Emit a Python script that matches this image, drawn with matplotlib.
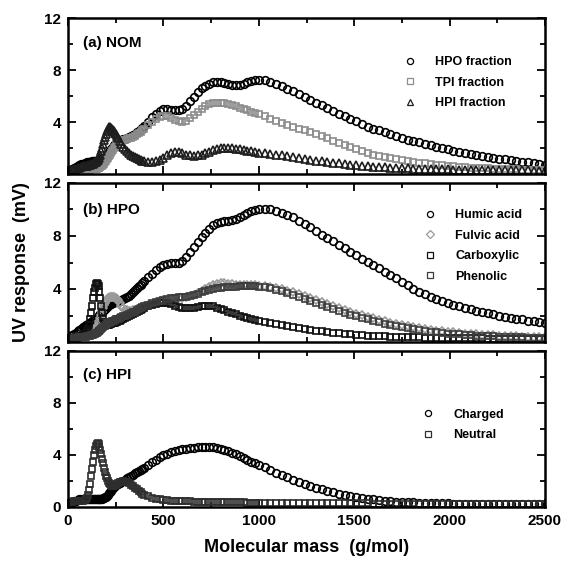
import matplotlib
matplotlib.use("Agg")
import matplotlib.pyplot as plt
from matplotlib.ticker import MultipleLocator, FixedLocator

plt.rcParams['font.family'] = ['Liberation Sans', 'DejaVu Sans']
plt.rcParams['font.weight'] = 'bold'

# ---------------- data ----------------
mass = [0, 10, 20, 30, 40, 50, 60, 70, 80, 90,
        95, 100, 105, 110, 115, 120, 125, 130, 135, 140, 145, 150, 155, 160, 165, 170, 175, 180, 185, 190,
        195, 200, 205, 210, 215, 220, 225, 230, 235, 240, 245, 250, 255, 260,
        270, 280, 290, 300, 310, 320, 330, 340, 350, 360, 370, 380, 390, 400,
        420, 440, 460, 480, 500, 520, 540, 560, 580, 600, 620, 640, 660, 680, 700, 720, 740, 760, 780, 800,
        820, 840, 860, 880, 900, 920, 940, 960, 980, 1000,
        1030, 1060, 1090, 1120, 1150, 1180, 1210, 1240, 1270, 1300, 1330, 1360, 1390, 1420, 1450, 1480, 1510,
        1540, 1570, 1600, 1630, 1660, 1690, 1720, 1750, 1780, 1810, 1840, 1870, 1900, 1930, 1960, 1990, 2020,
        2050, 2080, 2110, 2140, 2170, 2200, 2230, 2260, 2290, 2320, 2350, 2380, 2410, 2440, 2470, 2500]

# (a) NOM
hpo_fraction = [0.2, 0.3, 0.35, 0.45, 0.55, 0.6, 0.7, 0.75, 0.8, 0.85,
                0.87, 0.9, 0.92, 0.95, 0.95, 0.95, 0.97, 1.0, 1.0, 1.0, 1.0, 1.0, 1.02, 1.05, 1.07, 1.1, 1.12, 1.15, 1.2, 1.25,
                1.3, 1.35, 1.47, 1.6, 1.7, 1.8, 1.9, 2.0, 2.1, 2.2, 2.3, 2.4, 2.45, 2.5,
                2.6, 2.65, 2.7, 2.7, 2.75, 2.85, 2.9, 3.0, 3.1, 3.2, 3.3, 3.45, 3.55, 3.7,
                4.0, 4.35, 4.65, 4.85, 5.0, 5.0, 4.95, 4.9, 4.9, 5.0, 5.25, 5.6, 5.95, 6.3, 6.6, 6.8, 6.95, 7.05, 7.05, 7.05,
                7.0, 6.9, 6.85, 6.85, 6.85, 6.95, 7.05, 7.15, 7.2, 7.25,
                7.2, 7.1, 6.95, 6.75, 6.55, 6.35, 6.15, 5.95, 5.7, 5.5, 5.3, 5.1, 4.85, 4.65, 4.45, 4.25, 4.05, 3.85, 3.65, 3.5,
                3.35, 3.2, 3.05, 2.9, 2.8, 2.65, 2.55, 2.45, 2.3, 2.2, 2.1, 2.0, 1.9, 1.8, 1.7, 1.6, 1.52, 1.45, 1.38, 1.3,
                1.25, 1.18, 1.12, 1.06, 1.0, 0.95, 0.9, 0.83, 0.77, 0.7]
tpi_fraction = [0.1, 0.1, 0.12, 0.15, 0.18, 0.2, 0.22, 0.25, 0.27, 0.3,
                0.3, 0.3, 0.31, 0.32, 0.33, 0.35, 0.36, 0.37, 0.38, 0.4, 0.41, 0.42, 0.44, 0.47, 0.5, 0.55, 0.6, 0.65, 0.72, 0.8,
                0.9, 1.0, 1.12, 1.25, 1.37, 1.5, 1.62, 1.75, 1.88, 2.0, 2.1, 2.2, 2.3, 2.4,
                2.5, 2.55, 2.6, 2.62, 2.68, 2.75, 2.8, 2.87, 2.95, 3.05, 3.15, 3.25, 3.35, 3.45,
                3.75, 4.0, 4.25, 4.4, 4.5, 4.45, 4.3, 4.15, 4.05, 4.0, 4.1, 4.3, 4.55, 4.8, 5.0, 5.2, 5.35, 5.45, 5.5, 5.5,
                5.45, 5.4, 5.3, 5.2, 5.1, 5.0, 4.9, 4.8, 4.7, 4.6,
                4.45, 4.25, 4.1, 3.95, 3.8, 3.65, 3.5, 3.35, 3.25, 3.1, 2.9, 2.75, 2.55, 2.4, 2.2, 2.05, 1.9, 1.78, 1.65, 1.5,
                1.42, 1.33, 1.23, 1.15, 1.08, 1.0, 0.95, 0.88, 0.82, 0.76, 0.72, 0.67, 0.62, 0.59, 0.56, 0.53, 0.5, 0.48, 0.46, 0.44,
                0.42, 0.4, 0.38, 0.37, 0.35, 0.34, 0.33, 0.32, 0.31, 0.3]
hpi_fraction = [0.2, 0.25, 0.3, 0.35, 0.4, 0.45, 0.5, 0.55, 0.6, 0.62,
                0.63, 0.65, 0.67, 0.7, 0.72, 0.75, 0.77, 0.8, 0.85, 0.9, 0.95, 1.0, 1.1, 1.2, 1.35, 1.5, 1.75, 2.0, 2.3, 2.6,
                2.85, 3.1, 3.3, 3.5, 3.58, 3.6, 3.57, 3.5, 3.4, 3.3, 3.18, 3.05, 2.93, 2.8,
                2.55, 2.3, 2.1, 1.9, 1.75, 1.6, 1.5, 1.4, 1.3, 1.22, 1.15, 1.08, 1.02, 0.97,
                0.92, 0.92, 1.0, 1.1, 1.25, 1.45, 1.6, 1.7, 1.68, 1.6, 1.5, 1.45, 1.42, 1.45, 1.5, 1.6, 1.72, 1.85, 1.93, 1.98,
                2.0, 2.0, 1.97, 1.93, 1.9, 1.85, 1.8, 1.75, 1.7, 1.65,
                1.6, 1.55, 1.5, 1.45, 1.38, 1.3, 1.22, 1.15, 1.08, 1.02, 0.97, 0.92, 0.87, 0.82, 0.77, 0.72, 0.68, 0.64, 0.6, 0.57,
                0.54, 0.51, 0.49, 0.47, 0.45, 0.43, 0.42, 0.4, 0.39, 0.38, 0.37, 0.36, 0.35, 0.34, 0.33, 0.33, 0.32, 0.31, 0.31, 0.3,
                0.3, 0.29, 0.29, 0.28, 0.28, 0.27, 0.27, 0.26, 0.26, 0.25]

# (b) HPO
humic_acid = [0.3, 0.4, 0.5, 0.6, 0.7, 0.8, 0.9, 1.0, 1.1, 1.2,
              1.25, 1.3, 1.35, 1.4, 1.45, 1.5, 1.55, 1.6, 1.65, 1.7, 1.75, 1.8, 1.87, 1.95, 2.02, 2.1, 2.17, 2.25, 2.32, 2.4,
              2.47, 2.55, 2.62, 2.7, 2.77, 2.85, 2.9, 2.95, 2.97, 3.0, 3.02, 3.05, 3.07, 3.1,
              3.12, 3.17, 3.23, 3.3, 3.4, 3.5, 3.62, 3.75, 3.9, 4.05, 4.2, 4.3, 4.45, 4.6,
              4.9, 5.15, 5.45, 5.65, 5.8, 5.9, 5.95, 5.95, 6.0, 6.1, 6.4, 6.8, 7.2, 7.55, 7.9, 8.25, 8.55, 8.8, 8.95, 9.05,
              9.1, 9.12, 9.18, 9.28, 9.4, 9.55, 9.7, 9.85, 9.97, 10.05,
              10.05, 10.0, 9.9, 9.75, 9.6, 9.4, 9.15, 8.9, 8.65, 8.35, 8.1, 7.85, 7.6, 7.35, 7.1, 6.8, 6.55, 6.3, 6.05, 5.8,
              5.55, 5.3, 5.05, 4.8, 4.55, 4.3, 4.0, 3.8, 3.6, 3.42, 3.27, 3.12, 2.97, 2.83, 2.7, 2.58, 2.47, 2.37, 2.27, 2.17,
              2.08, 2.0, 1.92, 1.84, 1.77, 1.7, 1.62, 1.55, 1.48, 1.42]
fulvic_acid = [0.2, 0.25, 0.3, 0.33, 0.36, 0.4, 0.42, 0.45, 0.48, 0.5,
               0.52, 0.55, 0.57, 0.6, 0.65, 0.7, 0.75, 0.8, 0.87, 0.95, 1.02, 1.1, 1.25, 1.4, 1.6, 1.8, 2.05, 2.3, 2.55, 2.8,
               2.95, 3.1, 3.2, 3.3, 3.35, 3.4, 3.41, 3.42, 3.4, 3.38, 3.34, 3.3, 3.22, 3.15,
               2.95, 2.75, 2.55, 2.45, 2.38, 2.35, 2.35, 2.38, 2.42, 2.47, 2.52, 2.58, 2.64, 2.7,
               2.8, 2.9, 3.0, 3.08, 3.15, 3.2, 3.25, 3.28, 3.3, 3.33, 3.38, 3.45, 3.55, 3.7, 3.85, 4.0, 4.15, 4.3, 4.4, 4.45,
               4.42, 4.38, 4.35, 4.32, 4.3, 4.3, 4.3, 4.28, 4.27, 4.25,
               4.2, 4.15, 4.08, 4.0, 3.88, 3.75, 3.6, 3.45, 3.3, 3.15, 3.0, 2.85, 2.7, 2.55, 2.4, 2.27, 2.15, 2.03, 1.9, 1.78,
               1.67, 1.56, 1.46, 1.37, 1.28, 1.2, 1.12, 1.05, 0.98, 0.92, 0.86, 0.81, 0.76, 0.72, 0.68, 0.64, 0.61, 0.58, 0.55, 0.52,
               0.5, 0.48, 0.46, 0.44, 0.42, 0.41, 0.4, 0.39, 0.38, 0.37]
carboxylic = [0.2, 0.25, 0.3, 0.33, 0.36, 0.4, 0.42, 0.45, 0.5, 0.6,
              0.68, 0.8, 1.0, 1.3, 1.7, 2.2, 2.75, 3.3, 3.75, 4.1, 4.35, 4.45, 4.4, 4.2, 3.8, 3.3, 2.75, 2.2, 1.8, 1.5,
              1.37, 1.3, 1.3, 1.3, 1.32, 1.35, 1.37, 1.4, 1.42, 1.45, 1.47, 1.5, 1.52, 1.55,
              1.6, 1.68, 1.75, 1.82, 1.9, 1.98, 2.05, 2.12, 2.2, 2.28, 2.36, 2.45, 2.52, 2.6,
              2.72, 2.82, 2.9, 2.95, 2.98, 2.95, 2.85, 2.72, 2.62, 2.57, 2.55, 2.57, 2.6, 2.65, 2.7, 2.72, 2.72, 2.68, 2.6, 2.5,
              2.4, 2.3, 2.2, 2.1, 2.0, 1.92, 1.84, 1.76, 1.68, 1.6,
              1.52, 1.44, 1.36, 1.28, 1.2, 1.12, 1.05, 0.98, 0.92, 0.86, 0.8, 0.75, 0.7, 0.65, 0.61, 0.57, 0.54, 0.51, 0.48, 0.46,
              0.44, 0.42, 0.4, 0.38, 0.37, 0.36, 0.35, 0.34, 0.33, 0.32, 0.31, 0.3, 0.3, 0.29, 0.29, 0.28, 0.28, 0.27, 0.27, 0.26,
              0.26, 0.25, 0.25, 0.25, 0.24, 0.24, 0.24, 0.23, 0.23, 0.23]
phenolic = [0.2, 0.22, 0.25, 0.27, 0.3, 0.32, 0.34, 0.36, 0.38, 0.4,
            0.41, 0.42, 0.43, 0.45, 0.47, 0.5, 0.52, 0.55, 0.58, 0.62, 0.66, 0.7, 0.75, 0.8, 0.86, 0.92, 0.98, 1.05, 1.12, 1.18,
            1.24, 1.3, 1.35, 1.4, 1.44, 1.48, 1.52, 1.55, 1.58, 1.62, 1.66, 1.7, 1.73, 1.76,
            1.82, 1.88, 1.94, 2.0, 2.06, 2.12, 2.18, 2.24, 2.3, 2.38, 2.46, 2.54, 2.62, 2.7,
            2.82, 2.93, 3.03, 3.12, 3.2, 3.25, 3.3, 3.33, 3.36, 3.4, 3.43, 3.48, 3.55, 3.65, 3.75, 3.85, 3.95, 4.02, 4.07, 4.1,
            4.12, 4.15, 4.17, 4.18, 4.2, 4.2, 4.2, 4.2, 4.2, 4.18,
            4.12, 4.05, 3.95, 3.85, 3.7, 3.55, 3.4, 3.25, 3.1, 2.95, 2.8, 2.65, 2.5, 2.35, 2.2, 2.07, 1.94, 1.82, 1.7, 1.58,
            1.48, 1.38, 1.29, 1.2, 1.12, 1.04, 0.97, 0.9, 0.84, 0.78, 0.73, 0.68, 0.64, 0.6, 0.57, 0.54, 0.51, 0.48, 0.46, 0.44,
            0.42, 0.4, 0.38, 0.37, 0.35, 0.34, 0.33, 0.32, 0.31, 0.3]

# (c) HPI
charged = [0.3, 0.35, 0.4, 0.45, 0.5, 0.55, 0.6, 0.62, 0.65, 0.65,
           0.65, 0.65, 0.64, 0.63, 0.62, 0.6, 0.6, 0.6, 0.6, 0.6, 0.6, 0.6, 0.6, 0.6, 0.61, 0.62, 0.63, 0.65, 0.67, 0.7,
           0.75, 0.8, 0.87, 0.95, 1.05, 1.15, 1.25, 1.35, 1.45, 1.55, 1.63, 1.7, 1.75, 1.8,
           1.88, 1.95, 2.02, 2.1, 2.2, 2.3, 2.4, 2.5, 2.6, 2.68, 2.76, 2.84, 2.92, 3.0,
           3.25, 3.45, 3.65, 3.82, 3.97, 4.1, 4.2, 4.3, 4.37, 4.43, 4.48, 4.53, 4.57, 4.6, 4.63, 4.65, 4.65, 4.62, 4.56, 4.48,
           4.4, 4.3, 4.18, 4.05, 3.92, 3.8, 3.65, 3.5, 3.36, 3.22,
           3.05, 2.85, 2.65, 2.45, 2.27, 2.1, 1.93, 1.77, 1.62, 1.48, 1.35, 1.23, 1.12, 1.02, 0.93, 0.85, 0.77, 0.7, 0.64, 0.58,
           0.53, 0.49, 0.45, 0.42, 0.39, 0.37, 0.35, 0.33, 0.31, 0.3, 0.29, 0.28, 0.27, 0.26, 0.25, 0.25, 0.24, 0.24, 0.23, 0.23,
           0.22, 0.22, 0.22, 0.21, 0.21, 0.21, 0.2, 0.2, 0.2, 0.2]
neutral = [0.3, 0.35, 0.4, 0.45, 0.5, 0.5, 0.5, 0.5, 0.5, 0.55,
           0.6, 0.7, 0.9, 1.3, 1.8, 2.4, 2.95, 3.5, 4.0, 4.4, 4.7, 4.85, 4.9, 4.85, 4.65, 4.4, 4.05, 3.7, 3.35, 3.0,
           2.7, 2.4, 2.2, 2.0, 1.85, 1.75, 1.7, 1.65, 1.64, 1.65, 1.68, 1.72, 1.77, 1.82,
           1.9, 1.95, 1.97, 1.95, 1.9, 1.82, 1.72, 1.6, 1.48, 1.36, 1.24, 1.13, 1.03, 0.95,
           0.82, 0.72, 0.64, 0.58, 0.54, 0.51, 0.49, 0.47, 0.46, 0.45, 0.44, 0.43, 0.42, 0.41, 0.4, 0.4, 0.39, 0.38, 0.38, 0.37,
           0.37, 0.36, 0.36, 0.35, 0.35, 0.35, 0.34, 0.34, 0.34, 0.33,
           0.33, 0.32, 0.32, 0.32, 0.31, 0.31, 0.31, 0.3, 0.3, 0.3, 0.29, 0.29, 0.29, 0.28, 0.28, 0.28, 0.27, 0.27, 0.27, 0.26,
           0.26, 0.26, 0.25, 0.25, 0.25, 0.24, 0.24, 0.24, 0.23, 0.23, 0.23, 0.22, 0.22, 0.22, 0.22, 0.21, 0.21, 0.21, 0.21, 0.2,
           0.2, 0.2, 0.2, 0.2, 0.2, 0.2, 0.2, 0.2, 0.2, 0.2]

panel_titles = ["(a) NOM", "(b) HPO", "(c) HPI"]
x_ticks = [0, 500, 1000, 1500, 2000, 2500]
y_ticks = [0, 4, 8, 12]

panels = [
    [("HPO fraction", hpo_fraction, 'o', '#000000', 5.5),
     ("TPI fraction", tpi_fraction, 's', '#8c8c8c', 5.0),
     ("HPI fraction", hpi_fraction, '^', '#1e1e1e', 5.5)],
    [("Humic acid", humic_acid, 'o', '#000000', 5.5),
     ("Fulvic acid", fulvic_acid, 'D', '#9a9a9a', 4.5),
     ("Carboxylic", carboxylic, 's', '#111111', 5.0),
     ("Phenolic", phenolic, 's', '#3c3c3c', 5.0)],
    [("Charged", charged, 'o', '#000000', 5.5),
     ("Neutral", neutral, 's', '#2e2e2e', 5.0)],
]

# ---------------- layout ----------------
W, H = 568, 573
fig = plt.figure(figsize=(W / 100, H / 100), dpi=100)
left, right = 68 / W, 545 / W
boxes = [(18, 174), (183, 342), (351, 507)]
legend_anchor = [(0.703, 0.755), (0.746, 0.835), (0.742, 0.63)]
title_y = [0.84, 0.83, 0.845]

axes = []
for i, (top_px, bot_px) in enumerate(boxes):
    ax = fig.add_axes([left, 1 - bot_px / H, right - left, (bot_px - top_px) / H])
    axes.append(ax)
    for label, vals, mk, col, ms in panels[i]:
        ax.plot(mass, vals, linestyle='none', marker=mk, ms=ms, mfc='none',
                mec=col, mew=1.2, label=label)
    ax.set_xlim(0, 2500)
    ax.set_ylim(0, 12)
    ax.xaxis.set_major_locator(FixedLocator(x_ticks))
    ax.xaxis.set_minor_locator(MultipleLocator(250))
    ax.yaxis.set_major_locator(FixedLocator(y_ticks))
    ax.yaxis.set_minor_locator(MultipleLocator(2))
    ax.tick_params(which='both', direction='in', top=True, right=True, width=1.3)
    ax.tick_params(which='major', length=6, labelsize=11, pad=5)
    ax.tick_params(which='minor', length=3.5)
    for sp in ax.spines.values():
        sp.set_linewidth(1.8)
    if i < 2:
        ax.set_xticklabels([])
        ax.set_yticklabels(['', '4', '8', '12'])
    else:
        ax.set_yticklabels(['0', '4', '8', '12'])
    for lab in ax.get_xticklabels() + ax.get_yticklabels():
        lab.set_fontweight('bold')
    ax.text(0.031, title_y[i], panel_titles[i], transform=ax.transAxes,
            fontsize=11, fontweight='bold', va='center', ha='left')
    leg = ax.legend(loc='upper left', bbox_to_anchor=legend_anchor[i], frameon=False,
                    fontsize=9, handlelength=1.0, handletextpad=1.5, borderpad=0,
                    borderaxespad=0, labelspacing=0.68, markerscale=0.8)
    for h in leg.legend_handles:
        h.set_markeredgewidth(0.9)
    for t in leg.get_texts():
        t.set_fontweight('bold')

fig.text(22 / W, 1 - 262 / H, "UV response  (mV)", rotation=90, ha='center', va='center',
         fontsize=13, fontweight='bold')
fig.text((68 + 545) / 2 / W, 1 - 548 / H, "Molecular mass  (g/mol)", ha='center', va='center',
         fontsize=13, fontweight='bold')

fig.savefig("out.png", dpi=100)
